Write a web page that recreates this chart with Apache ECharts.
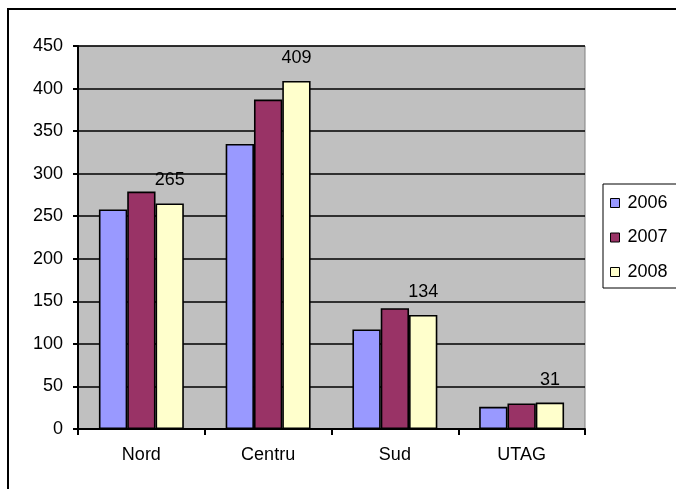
<!DOCTYPE html>
<html>
<head>
<meta charset="utf-8">
<script src="https://cdn.jsdelivr.net/npm/echarts@6/dist/echarts.min.js"></script>
<style>
  html, body { margin: 0; padding: 0; background: #fff; }
  #chart { width: 676px; height: 489px; }
</style>
</head>
<body>
<div id="chart"></div>
<script>
// Regions bar chart, three years side by side, value labels on 2008 only.

const categories = ['Nord', 'Centru', 'Sud', 'UTAG']
const years = ['2006', '2007', '2008']
const values2006 = [258, 335, 117, 26]
const values2007 = [279, 387, 142, 30]
const values2008 = [265, 409, 134, 31]
const yTicks = [0, 50, 100, 150, 200, 250, 300, 350, 400, 450]

const colors = ['#9999FF', '#993366', '#FFFFCC']
const font = 'Liberation Sans, Arial, sans-serif'

const chart = echarts.init(document.getElementById('chart'), null, { renderer: 'canvas' })

function makeSeries(name, data, i, withLabel) {
  return {
    name,
    type: 'bar',
    data,
    barGap: '0%',
    barCategoryGap: '33%',
    itemStyle: { color: colors[i], borderColor: '#000', borderWidth: 1.6 },
    label: withLabel
      ? { show: true, position: 'top', distance: 14, color: '#000', fontSize: 18, fontFamily: font }
      : { show: false },
    emphasis: { disabled: true },
  }
}

chart.setOption({
  animation: false,
  backgroundColor: '#fff',
  textStyle: { fontFamily: font },
  graphic: [
    {
      type: 'rect',
      shape: { x: 8, y: 9, width: 720, height: 520 },
      style: { fill: 'none', stroke: '#000', lineWidth: 2 },
      silent: true,
      z: -1,
    },
  ],
  legend: {
    orient: 'vertical',
    left: 603,
    top: 184,
    data: years,
    icon: 'rect',
    itemWidth: 9,
    itemHeight: 9,
    itemGap: 16.5,
    padding: [10, 12, 7, 7],
    borderColor: '#000',
    borderWidth: 1,
    backgroundColor: '#fff',
    itemStyle: { borderColor: '#000', borderWidth: 1 },
    textStyle: { fontSize: 18, color: '#000', fontFamily: font, padding: [0, 0, 0, 3] },
    selectedMode: false,
  },
  grid: {
    left: 78,
    right: 91,
    top: 46,
    bottom: 60,
    show: true,
    backgroundColor: '#C0C0C0',
    borderColor: '#808080',
    borderWidth: 1,
  },
  xAxis: {
    type: 'category',
    data: categories,
    axisLine: { lineStyle: { color: '#000', width: 2 } },
    axisTick: { show: true, length: 6, lineStyle: { color: '#000', width: 2 } },
    axisLabel: { color: '#000', fontSize: 18, fontFamily: font, margin: 17 },
  },
  yAxis: {
    type: 'value',
    min: yTicks[0],
    max: yTicks[yTicks.length - 1],
    interval: 50,
    axisLine: { show: true, lineStyle: { color: '#000', width: 2 } },
    axisTick: { show: true, length: 5, lineStyle: { color: '#000', width: 2 } },
    axisLabel: { color: '#000', fontSize: 18, fontFamily: font, margin: 15 },
    splitLine: { show: true, lineStyle: { color: '#000', width: 1.5 } },
  },
  series: [
    makeSeries(years[0], values2006, 0, false),
    makeSeries(years[1], values2007, 1, false),
    makeSeries(years[2], values2008, 2, true),
  ],
})
</script>
</body>
</html>
